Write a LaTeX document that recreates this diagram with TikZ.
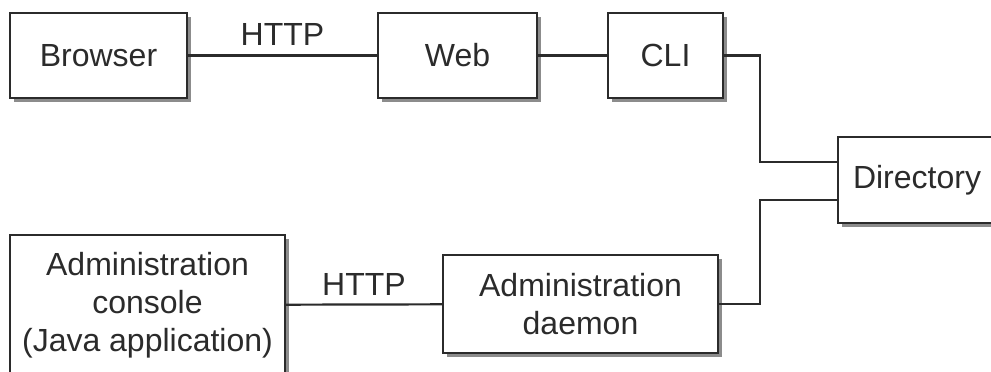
\documentclass[tikz,border=0pt]{standalone}
\usepackage{fontspec}
\setmainfont{Liberation Sans}
\usetikzlibrary{positioning}
\definecolor{ink}{HTML}{2B2B2B}
\begin{document}
\begin{tikzpicture}[x=1pt,y=-1pt,
  box/.style={draw=ink, line width=1.6pt, fill=white, inner sep=0pt,
    align=center, text=ink, font=\fontsize{32}{38}\selectfont,
    drop shadow box},
  drop shadow box/.style={preaction={fill=black!45, transform canvas={shift={(3.5pt,-4pt)}}}},
  link/.style={draw=ink, line width=2.2pt},
  lbl/.style={text=ink, font=\fontsize{32}{38}\selectfont, inner sep=0pt}]
\clip (0,0) rectangle (991,372);
\fill[white] (0,0) rectangle (991,372);

% upper row
\node[box, minimum width=177pt, minimum height=85pt] (browser) at (98.5,55.5) {Browser};
\node[box, minimum width=159pt, minimum height=85pt] (web) at (457.5,55.5) {Web};
\node[box, minimum width=115pt, minimum height=85pt] (cli) at (665.5,55.5) {CLI};
\node[box, minimum width=170pt, minimum height=86pt] (dir) at (923,180) {Directory\hspace*{12pt}};

% lower row
\node[box, minimum width=275pt, minimum height=140pt] (console) at (147.5,305)
  {Administration\\console\\(Java application)};
\node[box, minimum width=275pt, minimum height=98pt] (daemon) at (580.5,304)
  {Administration\\daemon};

% connectors
\draw[link] (browser) -- node[lbl, pos=0.5, yshift=21pt] {HTTP} (web);
\draw[link] (web) -- (cli);
\coordinate (j1) at (760,162);
\coordinate (j2) at (760,200);
\draw[link] (cli.east) -| (j1) -- (j1 -| dir.west);
\draw[link] (daemon.east) -| (j2) -- (j2 -| dir.west);
\draw[link] (console) -- node[lbl, pos=0.5, yshift=20pt] {HTTP} (daemon);
\end{tikzpicture}
\end{document}
